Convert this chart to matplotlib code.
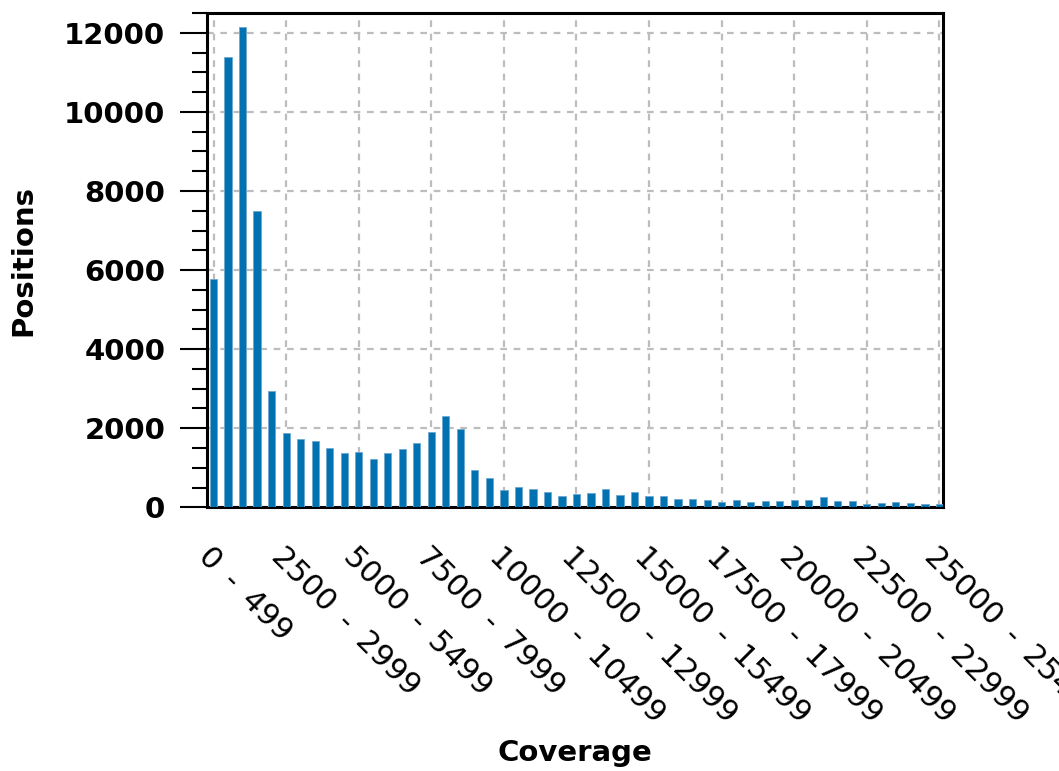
import matplotlib
matplotlib.use('Agg')
import matplotlib.pyplot as plt
from matplotlib.ticker import MultipleLocator

# coverage bins, 500 wide (en spaces around the dash to get the wide spacing)
bin_starts = list(range(0, 25500, 500))
bin_labels = [f"{s}\u2002-\u2002{s + 499}" for s in bin_starts]

positions = [5780, 11380, 12140, 7500, 2950, 1880, 1720, 1680, 1490, 1370,
             1390, 1215, 1385, 1480, 1620, 1900, 2320, 1970, 955, 750,
             430, 525, 455, 390, 280, 340, 356, 475, 314, 398,
             280, 288, 212, 220, 195, 136, 178, 136, 170, 170,
             178, 186, 263, 170, 161, 85, 102, 127, 110, 93,
             85]

bar_color = '#0072B2'

fig = plt.figure(figsize=(10.59, 7.71), dpi=100)
ax = fig.add_axes([0.1955, 0.342, 0.695, 0.641])

x = list(range(len(positions)))
ax.bar(x, positions, width=0.5, color=bar_color, edgecolor='#6fa8d0', linewidth=0.6, zorder=3)

ax.set_xlim(-0.45, 50.25)
ax.set_ylim(0, 12500)

# ticks every 5 bins
tick_idx = x[::5]
ax.set_xticks(tick_idx)
ax.set_xticklabels([bin_labels[i] for i in tick_idx], rotation=-45, ha='left',
                   va='top', rotation_mode='anchor', fontsize=22, fontweight='medium')
ax.tick_params(axis='x', length=0, pad=25)

ax.yaxis.set_major_locator(MultipleLocator(2000))
ax.yaxis.set_minor_locator(MultipleLocator(500))
ax.tick_params(axis='y', which='major', length=19.5, width=1.5, pad=10.5, labelsize=21)
ax.tick_params(axis='y', which='minor', length=11, width=1.5)
for lbl in ax.get_yticklabels():
    lbl.set_fontweight('bold')

ax.grid(True, which='major', linestyle=(0, (3, 3)), color='#bdbdbd', linewidth=1.6, zorder=0)
ax.set_axisbelow(True)

for sp in ax.spines.values():
    sp.set_linewidth(2.2)

ax.set_xlabel('Coverage', fontsize=21, fontweight='bold')
ax.xaxis.set_label_coords(0.5, -0.468)
ax.set_ylabel('Positions', fontsize=21, fontweight='bold')
ax.yaxis.set_label_coords(-0.231, 0.5)

fig.savefig('out.png', dpi=100)
